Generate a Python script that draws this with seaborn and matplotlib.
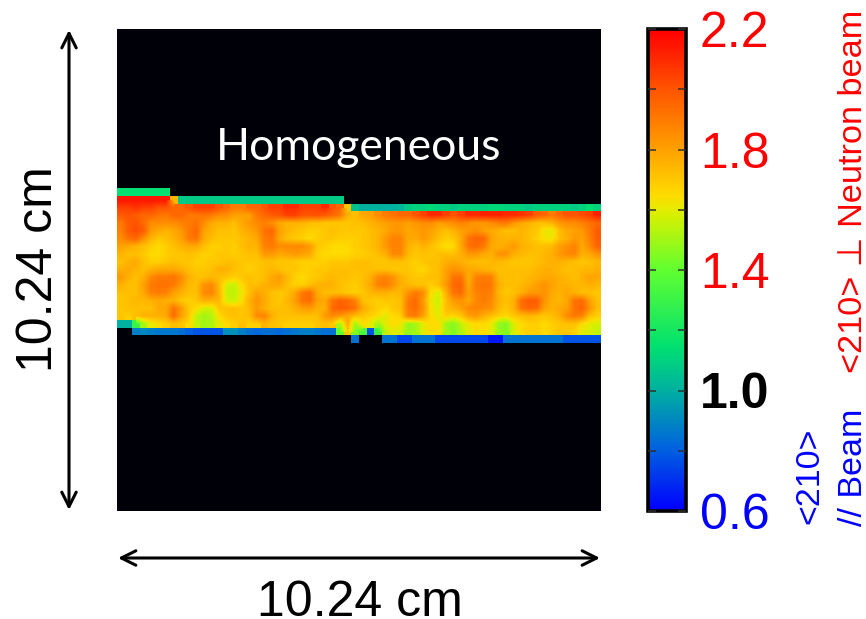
import numpy as np
import seaborn as sns
import matplotlib
matplotlib.use("Agg")
import matplotlib.pyplot as plt
from matplotlib.colors import LinearSegmentedColormap

W, H = 866, 619
# Map values in hundredths; 0 = no data (black background)
row_00 = [115]*7 + [0]*57
row_01 = [215]*7 + [175] + [108]*22 + [0]*34
row_02 = [205,205,208,205,205,200,200,195,195,200,205,205,205,200,195,190,
          190,195,195,200,205,205,210,210,205,205,205,210,200,195,170,105,
          100,100,100,100,100,102,108,110,110,112,110,110,108,110,110,110,
          110,112,112,110,110,110,108,110,110,110,110,110,108,110,115,110]
row_03 = [198,200,198,195,195,192,190,195,195,190,190,192,190,185,185,180,
          180,180,190,195,198,200,205,205,200,200,200,198,195,190,175,172,
          178,180,185,190,192,195,195,200,205,210,210,205,200,205,210,210,
          212,212,212,210,210,208,205,198,195,190,195,200,200,202,205,212]
row_04 = [190,198,200,195,185,185,185,185,188,190,192,185,178,175,175,172,
          178,182,186,188,185,178,175,175,175,172,172,170,170,170,170,172,
          172,175,178,180,182,182,180,182,185,185,180,182,185,188,185,182,
          182,185,188,190,182,178,175,172,172,175,182,185,185,188,192,195]
row_05 = [188,198,202,198,182,178,175,178,182,190,195,180,175,172,172,170,
          175,178,182,192,195,180,175,172,170,168,168,170,172,170,170,170,
          170,172,175,178,182,182,178,180,182,180,175,172,175,180,182,185,
          180,178,175,172,172,175,172,170,162,160,172,178,180,182,190,198]
row_06 = [185,192,195,185,175,170,172,175,180,190,192,178,172,170,170,170,
          172,175,178,190,192,178,172,170,168,165,168,170,170,168,168,168,
          170,172,175,182,188,188,178,178,182,178,172,168,170,178,192,196,
          195,180,176,175,176,175,172,168,163,162,172,176,182,180,188,198]
row_07 = [180,178,175,172,168,165,168,172,175,178,178,172,168,168,170,168,
          172,175,175,188,190,185,186,186,186,182,170,168,165,165,165,168,
          170,172,175,182,188,188,176,172,175,172,168,164,165,178,192,194,
          190,178,176,178,182,176,174,172,172,174,180,184,188,178,186,196]
row_08 = [175,172,172,170,165,165,168,170,170,172,170,168,168,170,170,168,
          170,172,172,182,182,178,180,182,180,178,168,165,165,165,165,168,
          168,170,172,176,186,186,174,170,172,170,172,172,172,176,182,182,
          178,176,184,184,176,174,172,172,174,176,182,186,188,176,178,184]
row_09 = [172,175,178,172,168,168,170,172,170,170,168,168,170,170,172,172,
          170,170,170,172,172,170,170,170,168,168,168,168,170,170,170,172,
          172,172,170,170,172,172,170,168,170,172,172,176,178,176,174,172,
          172,174,174,172,170,170,170,172,174,176,176,174,172,170,172,174]
row_10 = [176,178,175,172,175,178,178,178,176,172,170,170,172,176,176,172,
          170,168,170,172,174,172,170,170,168,168,170,170,172,172,172,172,
          172,172,172,172,170,170,170,168,166,170,172,180,184,182,178,178,
          176,174,172,172,172,172,172,174,176,176,174,172,172,174,174,176]
row_11 = [182,176,172,176,186,190,190,192,186,176,172,172,174,172,170,168,
          170,172,170,172,178,182,174,168,165,168,170,172,174,172,172,170,
          172,176,186,188,184,176,172,170,170,172,172,180,192,192,176,188,
          190,188,174,172,172,172,174,176,178,178,176,174,172,176,180,178]
row_12 = [176,172,172,180,190,192,192,190,182,174,172,184,186,174,158,155,
          165,172,172,176,178,178,172,168,168,172,175,176,176,172,170,168,
          172,178,188,190,184,176,174,172,172,168,172,182,194,196,178,190,
          192,190,176,172,172,174,176,180,184,180,176,176,174,174,176,174]
row_13 = [172,172,172,178,188,190,188,180,176,172,172,186,188,175,156,154,
          162,172,180,176,172,170,172,178,190,194,178,172,172,172,170,168,
          170,174,176,176,174,174,184,190,186,165,158,176,192,194,180,188,
          190,188,174,170,172,176,182,182,184,178,176,178,176,172,172,170]
row_14 = [170,172,174,174,176,178,176,176,170,168,170,176,176,174,158,156,
          164,176,184,178,172,170,174,180,192,194,180,178,192,196,194,188,
          172,170,168,170,170,172,190,194,182,162,156,172,182,184,178,186,
          190,186,176,172,176,194,198,198,184,176,174,178,192,194,180,172]
row_15 = [170,172,172,172,172,178,178,192,182,170,165,158,158,170,172,172,
          170,174,182,176,172,172,172,176,180,182,176,176,194,198,196,192,
          178,172,168,166,170,172,190,194,184,164,158,172,176,180,186,188,
          186,184,174,170,176,192,196,194,180,176,178,180,192,196,184,172]
row_16 = [170,168,172,176,176,176,178,194,180,170,155,150,152,165,170,172,
          170,172,186,188,176,172,172,172,172,172,172,182,186,182,178,172,
          170,168,164,160,165,168,188,190,180,165,160,168,166,170,180,182,
          176,172,168,166,170,172,174,172,170,172,176,186,190,188,172,168]
row_17 = [100,100,130,150,160,165,168,172,170,165,155,150,152,160,165,168,
          172,168,168,175,172,170,168,168,168,168,170,172,170,150,178,150,
          165,160,150,160,165,162,148,150,160,165,165,150,145,155,162,165,
          165,162,148,145,160,165,168,168,165,168,170,172,172,165,160,158]
row_18 = [0,0,88,90,88,86,86,86,84,80,78,78,78,78,92,92,
          88,84,82,84,84,82,84,86,88,88,86,84,84,140,170,145,
          135,78,130,155,160,158,148,150,160,165,165,150,145,152,160,165,
          165,160,148,145,158,165,168,168,165,168,170,170,168,160,158,155]
row_19 = [0]*31 + [85] + [0,0,0,85,85,75,75,85,85,85,75,75,75,75,75,75,
          75,65,65,85,85,85,85,85,85,85,85,78,78,78,78,78]
band_rows = [row_00,row_01,row_02,row_03,row_04,row_05,row_06,row_07,row_08,row_09,
             row_10,row_11,row_12,row_13,row_14,row_15,row_16,row_17,row_18,row_19]
rows_above, rows_below = 21, 22
cbar_ticks = [0.8,1.0,1.2,1.4,1.6,1.8,2.0,0.6,2.2]
cbar_labels = ["","1.0","","1.4","","1.8","","0.6","2.2"]
cbar_colors = ["k","#000000","k","#ff0000","k","#ff0000","k","#0000ff","#ff0000"]

band = np.array(band_rows, dtype=float)/100
grid = np.vstack([np.zeros((rows_above,64)), band, np.zeros((rows_below,64))])
cmap = LinearSegmentedColormap.from_list("jetlike", [
    (0.0,"#0000ff"),(0.125,"#0060e0"),(0.25,"#00b0a0"),(0.34,"#00e070"),
    (0.5,"#60ff30"),(0.615,"#d8f000"),(0.655,"#ffdc00"),(0.72,"#ffb400"),
    (0.875,"#ff5500"),(1.0,"#ff0000")])

def axrect(x0,y0,x1,y1):
    return [x0/W, 1-y1/H, (x1-x0)/W, (y1-y0)/H]
def fx(x): return x/W
def fy(y): return 1-y/H

sns.set_theme(style="white")
plt.rcParams["font.family"] = ["Liberation Sans","DejaVu Sans"]
fig = plt.figure(figsize=(W/100,H/100),dpi=100,facecolor="white")
ax = fig.add_axes(axrect(117,29,601,511))
cax = fig.add_axes(axrect(648,29,686,511))
ax.set_facecolor("#000008")
sns.heatmap(grid, mask=grid==0, cmap=cmap, vmin=0.6, vmax=2.2, ax=ax, cbar_ax=cax,
            xticklabels=False, yticklabels=False, linewidths=0, rasterized=True)
# smooth the interior cells as in the blurred source; thin edge strips stay crisp below it
ax.imshow(np.ma.masked_less(grid,1.3), cmap=cmap, vmin=0.6, vmax=2.2, aspect="auto",
          extent=(0,64,grid.shape[0],0), interpolation="bilinear", interpolation_stage="data", zorder=3)
ax.set_xlim(0,64)
ax.set_ylim(62.66,0.46)
ax.tick_params(left=False,bottom=False)

cb = ax.collections[0].colorbar
cb.set_ticks(cbar_ticks, labels=cbar_labels)
cb.outline.set_visible(True); cb.outline.set_edgecolor("black"); cb.outline.set_linewidth(2.6)
cax.set_axisbelow(False)
cax.tick_params(axis="y",which="major",left=True,right=True,direction="in",length=6,width=1.1,
                color="#303030",pad=10,labelsize=36)
cax.minorticks_off()
for tick_value,lab,c in zip(cax.get_yticks(),cax.get_yticklabels(),cbar_colors):
    lab.set_color(c)
    if lab.get_text()=="1.0": lab.set_fontweight("bold")

fig.text(fx(359),fy(148),"Homogeneous",color="white",family="Lato",fontsize=32,ha="center",va="center")
fig.text(fx(360),fy(616),"10.24 cm",fontsize=36,ha="center",va="baseline",color="black")
rot = dict(ha="center",va="baseline",rotation=90,rotation_mode="anchor")
fig.text(fx(52.5),fy(269),"10.24 cm",fontsize=36,color="black",**rot)
fig.text(fx(862),fy(191),"<210> \u22a5 Neutron beam",fontsize=24.7,color="#ff0000",**rot)
fig.text(fx(862),fy(467),"// Beam",fontsize=24.5,color="#0000ff",**rot)
fig.text(fx(818),fy(476),"<210>",fontsize=24.5,color="#0000ff",**rot)

arrow = dict(arrowstyle="<->",color="black",lw=2.2,mutation_scale=26,shrinkA=0,shrinkB=0)
fig.add_artist(matplotlib.patches.FancyArrowPatch((fx(69),fy(30)),(fx(69),fy(510)),transform=fig.transFigure,**arrow))
fig.add_artist(matplotlib.patches.FancyArrowPatch((fx(118),fy(558)),(fx(600),fy(558)),transform=fig.transFigure,**arrow))
fig.savefig("out.png",dpi=100,facecolor="white")
